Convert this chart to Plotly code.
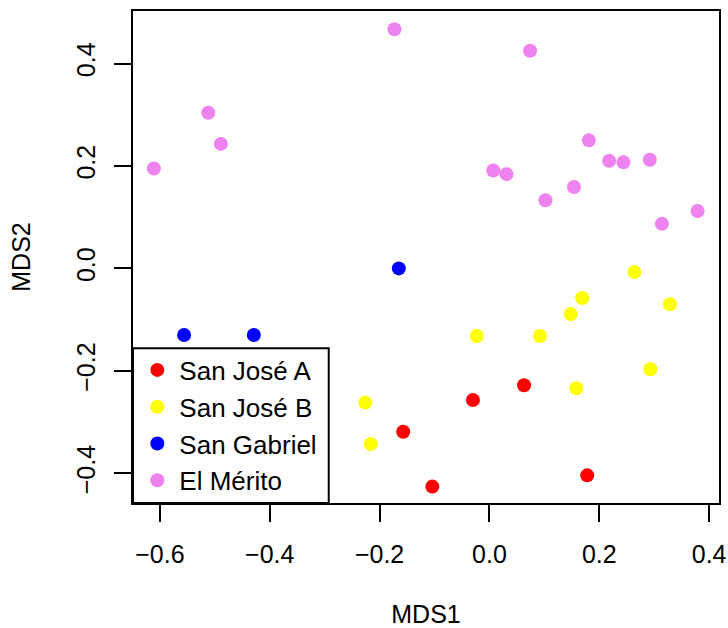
import plotly.graph_objects as go

# MDS ordination scores per site
groups = ["San José A", "San José B", "San Gabriel", "El Mérito"]
colors = ["#FF0000", "#FFFF00", "#0000FF", "#EE82EE"]

sja_x = [0.063, -0.030, -0.157, -0.104, 0.178]
sja_y = [-0.228, -0.257, -0.319, -0.426, -0.404]

sjb_x = [0.264, 0.169, 0.329, 0.148, -0.023, 0.092, 0.293, 0.158, -0.226, -0.216]
sjb_y = [-0.007, -0.058, -0.070, -0.089, -0.132, -0.132, -0.197, -0.234, -0.262, -0.343]

sg_x = [-0.165, -0.556, -0.429]
sg_y = [0.000, -0.130, -0.130]

em_x = [-0.611, -0.512, -0.489, -0.173, 0.074, 0.181, 0.218, 0.244, 0.292,
        0.007, 0.031, 0.154, 0.102, 0.379, 0.314]
em_y = [0.195, 0.304, 0.243, 0.467, 0.425, 0.250, 0.210, 0.207, 0.212,
        0.191, 0.184, 0.159, 0.133, 0.112, 0.087]

xs = [sja_x, sjb_x, sg_x, em_x]
ys = [sja_y, sjb_y, sg_y, em_y]

x_ticks = [-0.6, -0.4, -0.2, 0.0, 0.2, 0.4]
x_tick_text = ["\u22120.6", "\u22120.4", "\u22120.2", "0.0", "0.2", "0.4"]
y_ticks = [-0.4, -0.2, 0.0, 0.2, 0.4]
y_tick_text = ["\u22120.4", "\u22120.2", "0.0", "0.2", "0.4"]

FONT = "Liberation Sans, Arial, Helvetica, sans-serif"

fig = go.Figure()
for name, col, x, y in zip(groups, colors, xs, ys):
    fig.add_trace(go.Scatter(
        x=x, y=y, mode="markers", name=name,
        marker=dict(color=col, size=14, line=dict(width=0)),
    ))

axis_common = dict(
    showline=True, linecolor="black", linewidth=2, mirror=True,
    ticks="outside", ticklen=17, tickwidth=2, tickcolor="black",
    showgrid=False, zeroline=False, automargin=False,
    tickfont=dict(family=FONT, size=25, color="black"),
)

# framed legend box in the lower-left corner of the plotting region
legend_frame = dict(
    type="rect", xref="paper", yref="paper",
    x0=0, x1=0.334, y0=0, y1=0.3144,
    line=dict(color="black", width=2), fillcolor="white", layer="below",
)

fig.update_layout(
    width=728, height=628,
    margin=dict(l=133, r=9, t=11, b=125),
    paper_bgcolor="white", plot_bgcolor="white",
    font=dict(family=FONT, size=25, color="black"),
    xaxis=dict(
        range=[-0.649, 0.418], tickvals=x_ticks, ticktext=x_tick_text,
        title=dict(text="MDS1", standoff=40, font=dict(size=25)),
        ticklabelstandoff=11,
        **axis_common,
    ),
    yaxis=dict(
        range=[-0.458, 0.5025], tickvals=y_ticks, ticktext=y_tick_text,
        tickangle=-90,
        title=dict(text="MDS2", standoff=34, font=dict(size=25)),
        ticklabelstandoff=9,
        **axis_common,
    ),
    shapes=[legend_frame],
    showlegend=True,
    legend=dict(
        x=0.004, y=0.1575, xanchor="left", yanchor="middle",
        bgcolor="rgba(0,0,0,0)", borderwidth=0,
        font=dict(family=FONT, size=26, color="black"),
        itemwidth=34,
    ),
)

fig.write_html("out.html")
